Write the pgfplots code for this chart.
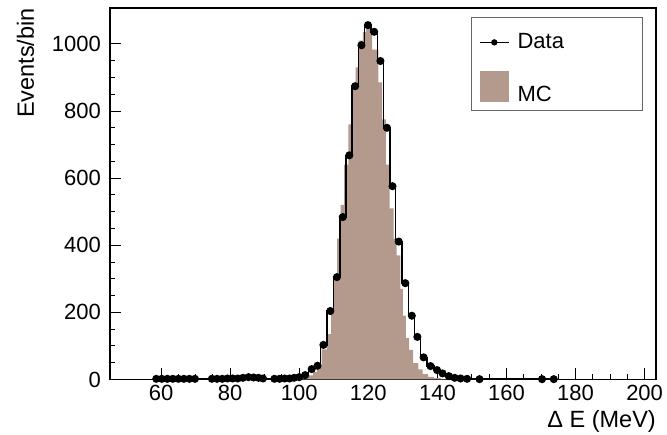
\documentclass[border=0pt]{standalone}
\usepackage{fontspec}
\setmainfont{Liberation Sans}
\usepackage{pgfplots}
\pgfplotsset{compat=1.18}
\definecolor{mcfill}{RGB}{179,154,140}
\begin{document}
\begin{tikzpicture}
\begin{axis}[
  scale only axis,
  width=546pt, height=371.5pt,
  xmin=45.2, xmax=203.3, ymin=0, ymax=1107,
  clip=false,
  axis line style={black, line width=1.1pt},
  tick pos=left,
  tick align=inside,
  major tick length=11pt, minor tick length=5.5pt,
  every tick/.style={black, line width=1pt},
  xtick={60,80,...,200}, minor x tick num=3,
  ytick={0,200,...,1000}, minor y tick num=3,
  /pgf/number format/assume math mode=true,
  /pgf/number format/1000 sep={},
  tick label style={font=\fontsize{22}{26}\selectfont},
  xticklabel style={inner sep=0pt, yshift=-5.5pt},
  yticklabel style={inner sep=0pt, xshift=-9pt},
  xlabel={Δ E (MeV)},
  ylabel={Events/bin},
  label style={font=\fontsize{23.5}{27}\selectfont},
  x label style={at={(axis description cs:1,-0.1279)}, anchor=base east, inner sep=0pt},
  y label style={at={(axis description cs:-0.1392,1)}, anchor=base east, inner sep=0pt},
  legend style={at={(axis description cs:0.9762,0.9758)}, anchor=north east,
    draw=black!60, line width=0.8pt, fill=white,
    font=\fontsize{22}{26}\selectfont,
    inner xsep=8pt, inner ysep=7pt, row sep=21pt, column sep=8pt,
    nodes={inner sep=0pt}, cells={anchor=base west}},
]
\addplot[fill=mcfill, draw=none, const plot, forget plot] coordinates {
(99.5,2) (101.0,5) (102.6,12) (104.0,22) (105.1,40) (106.5,90) (108.0,135)
(109.2,200) (109.9,295) (111.0,420) (112.0,520) (113.0,640) (114.2,760)
(115.4,870) (116.3,930) (117.2,1010) (118.4,1035) (119.3,1048) (121.1,983)
(122.9,885) (124.0,775) (125.1,640) (126.2,510) (127.3,420) (128.2,370)
(129.3,270) (130.0,190) (130.9,124) (131.8,88) (133.0,49) (134.5,30)
(135.7,16) (137.3,8) (139.0,4) (141.0,1) (143.0,0)
} \closedcycle;
\addplot[black, line width=1.6pt, const plot mark mid, mark=*, mark size=3.2pt, forget plot] coordinates {
(58.6,2) (60.2,2) (61.8,2) (63.4,2) (65.0,2) (66.6,2) (68.2,2) (69.8,2)
(74.7,2) (76.2,2) (77.7,2) (79.2,3) (80.7,3) (82.2,3) (83.7,5) (85.3,7) (86.8,6) (88.2,5) (89.5,3)
(92.8,2) (94.3,2) (95.8,3) (97.2,3) (98.5,5) (100.0,7) (101.7,13) (103.6,31) (105.3,41)
(107.0,103) (109.0,204) (110.9,305) (112.6,484) (114.5,668) (116.2,874) (118.0,996)
(119.9,1056) (121.7,1036) (123.5,949) (125.4,750) (127.0,576) (128.8,411) (130.7,287)
(132.6,190) (134.2,127) (136.0,66) (138.0,40) (139.9,28) (141.5,18) (143.3,10)
(145.0,5) (146.7,3) (148.6,2) (152.2,1) (170.3,1) (173.7,1)
};
\addlegendimage{legend image code/.code={\path[draw=none,fill=none] (0pt,0pt) rectangle (29pt,24pt); \draw[black, line width=1.6pt] (0pt,6pt) -- (29pt,6pt); \fill[black, draw=none] (14.5pt,6pt) circle (3.2pt);}}
\addlegendentry{\makebox[117pt][l]{Data}}
\addlegendimage{legend image code/.code={\fill[mcfill, draw=none] (0pt,0pt) rectangle (29pt,31pt);}}
\addlegendentry{\makebox[117pt][l]{MC}}
\end{axis}
\pgfresetboundingbox
\useasboundingbox (current axis.south west) ++(-110pt,-55.5pt) rectangle ++(667pt,435pt);
\end{tikzpicture}
\end{document}
